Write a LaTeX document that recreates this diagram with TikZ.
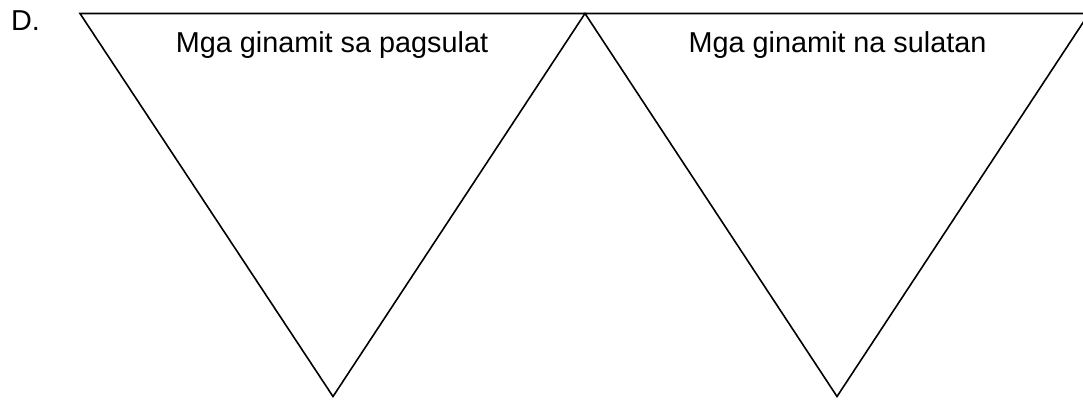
\documentclass[tikz,border=0pt]{standalone}
\usepackage{fontspec}
\setmainfont{Liberation Sans}
\begin{document}
\begin{tikzpicture}[x=1pt,y=1pt,
  edge/.style={draw=black,line width=1.6pt,line join=miter},
  label/.style={font=\fontsize{28.8}{34}\selectfont,anchor=base,inner sep=0pt}]
\useasboundingbox (0,0) rectangle (1083,399);
\clip (0,0) rectangle (1083,399);
\coordinate (tl) at (80,385.5);
\coordinate (tm) at (585,385.5);
\coordinate (tr) at (1089,385.5);
\coordinate (b1) at (333,2.5);
\coordinate (b2) at (837,2.5);
\draw[edge] (tl) -- (tm) -- (b1) -- cycle;
\draw[edge] (tm) -- (tr) -- (b2) -- cycle;
\node[label,anchor=base west] (d) at (11,368) {D.};
\node[label] (t1) at (332,346) {Mga ginamit sa pagsulat};
\node[label] (t2) at (837.5,346) {Mga ginamit na sulatan};
\end{tikzpicture}
\end{document}
